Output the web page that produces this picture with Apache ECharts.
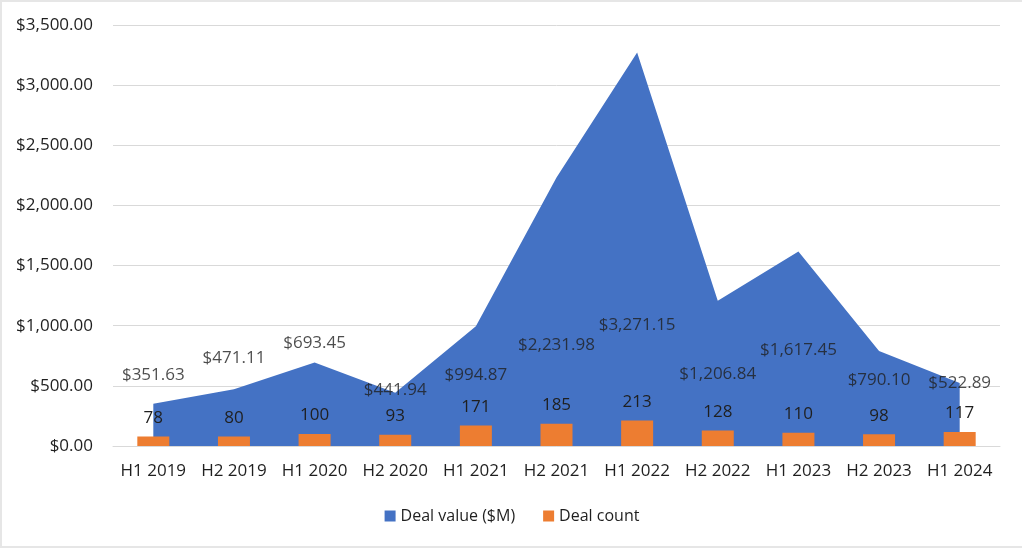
<!DOCTYPE html>
<html><head><meta charset="utf-8">
<script src="https://cdn.jsdelivr.net/npm/echarts@6/dist/echarts.min.js"></script>
<style>html,body{margin:0;padding:0;background:#fff}#w{position:relative;width:1024px;height:548px}#c{width:1024px;height:548px}
#f{position:absolute;left:0;top:0;width:1020px;height:544px;border:2px solid #e6e6e6;border-right:none;pointer-events:none}</style>
</head><body><div id="w"><div id="c"></div><div id="f"></div></div>
<script>
var categories = ['H1 2019','H2 2019','H1 2020','H2 2020','H1 2021','H2 2021','H1 2022','H2 2022','H1 2023','H2 2023','H1 2024'];
var dealValue = [351.63, 471.11, 693.45, 441.94, 994.87, 2231.98, 3271.15, 1206.84, 1617.45, 790.10, 522.89];
var dealCount = [78, 80, 100, 93, 171, 185, 213, 128, 110, 98, 117];
// where the value labels sit (axis units), as placed in the reference
var valueLabelAnchor = [590, 731, 856, 465, 590, 840, 1006, 598, 798, 549, 524];
var yTicks = {min: 0, max: 3500, interval: 500};

function money(v){
  return '$' + v.toLocaleString('en-US',{minimumFractionDigits:2, maximumFractionDigits:2});
}
var FONT = 'Open Sans';
var TXT = '#1f1f1f';
var FS = 17;
var chart = echarts.init(document.getElementById('c'));
chart.setOption({
  animation: false,
  textStyle: {fontFamily: FONT},
  grid: {left: 113, right: 24, top: 25, bottom: 102},
  legend: {
    bottom: 19, left: 'center', itemWidth: 11, itemHeight: 11, itemGap: 28,
    data: [{name: 'Deal value ($M)', icon: 'rect'}, {name: 'Deal count', icon: 'rect'}],
    textStyle: {fontFamily: FONT, fontSize: 16, color: TXT}
  },
  xAxis: {
    type: 'category', data: categories, boundaryGap: true,
    axisTick: {show: false},
    axisLine: {lineStyle: {color: '#d9d9d9'}},
    axisLabel: {fontFamily: FONT, fontSize: FS, color: TXT, margin: 17, interval: 0}
  },
  yAxis: {
    type: 'value', min: yTicks.min, max: yTicks.max, interval: yTicks.interval,
    axisLine: {show: false}, axisTick: {show: false},
    splitLine: {lineStyle: {color: '#d9d9d9'}},
    axisLabel: {fontFamily: FONT, fontSize: FS, color: TXT, margin: 20, formatter: money}
  },
  series: [
    {
      name: 'Deal value ($M)', type: 'line', data: dealValue,
      symbol: 'none', lineStyle: {width: 0}, itemStyle: {color: '#4472C4'},
      areaStyle: {color: '#4472C4', opacity: 1}, z: 1
    },
    {
      name: 'Deal count', type: 'bar', data: dealCount, barWidth: 32,
      itemStyle: {color: '#ED7D31'}, z: 3,
      label: {show: true, position: 'top', distance: 10, fontFamily: FONT, fontSize: FS, color: TXT}
    },
    {
      name: 'value labels', type: 'scatter', data: valueLabelAnchor,
      symbolSize: 0, silent: true, z: 5,
      label: {show: true, position: 'inside', fontFamily: FONT, fontSize: FS, color: TXT,
        formatter: function(p){ return money(dealValue[p.dataIndex]); }}
    }
  ]
});
</script></body></html>
